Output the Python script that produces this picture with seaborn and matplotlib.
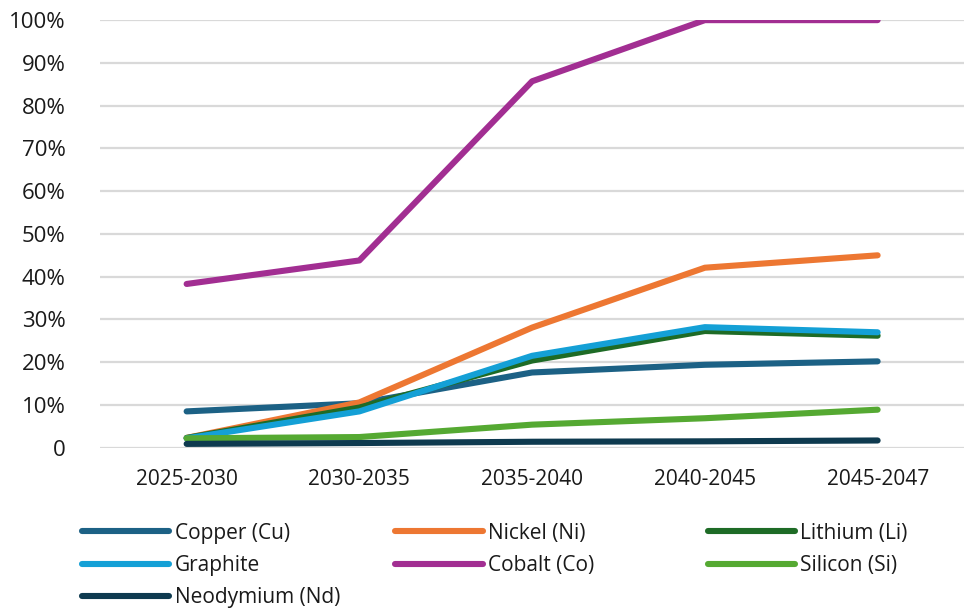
import numpy as np
import pandas as pd
import matplotlib.pyplot as plt
import seaborn as sns

periods = ["2025-2030", "2030-2035", "2035-2040", "2040-2045", "2045-2047"]

copper = [8.5, 10.4, 17.6, 19.4, 20.2]
nickel = [2.3, 10.6, 28.1, 42.1, 45.0]
lithium = [2.3, 9.4, 20.4, 27.3, 26.2]
graphite = [2.2, 8.5, 21.5, 28.2, 27.0]
cobalt = [38.3, 43.8, 85.7, 100.0, 100.0]
silicon = [2.2, 2.5, 5.4, 6.9, 8.9]
neodymium = [0.9, 1.1, 1.4, 1.5, 1.7]

series = {
    "Copper (Cu)": copper,
    "Nickel (Ni)": nickel,
    "Lithium (Li)": lithium,
    "Graphite": graphite,
    "Cobalt (Co)": cobalt,
    "Silicon (Si)": silicon,
    "Neodymium (Nd)": neodymium,
}
colors = {
    "Copper (Cu)": "#1c6185",
    "Nickel (Ni)": "#ed7732",
    "Lithium (Li)": "#1e6b26",
    "Graphite": "#14a0d6",
    "Cobalt (Co)": "#a22e92",
    "Silicon (Si)": "#55a932",
    "Neodymium (Nd)": "#0e3a4f",
}

rows = []
for name, vals in series.items():
    for p, v in zip(periods, vals):
        rows.append({"period": p, "share": v, "material": name})
df = pd.DataFrame(rows)

sns.set_style("white")
plt.rcParams["font.family"] = ["Open Sans", "DejaVu Sans"]
text_color = "#1a1a1a"

fig = plt.figure(figsize=(9.64, 6.10), dpi=100)
ax = fig.add_axes([0.104, 0.266, 0.896, 0.701])

sns.lineplot(data=df, x="period", y="share", hue="material", palette=colors,
             hue_order=list(series.keys()), linewidth=4.4, sort=False,
             solid_capstyle="round", ax=ax, zorder=3)

ax.set_xlim(-0.5, 4.5)
ax.set_ylim(0, 100)
ax.set_yticks(np.arange(0, 101, 10))
ax.set_yticklabels(["0"] + [f"{t}%" for t in range(10, 101, 10)])
ax.yaxis.grid(True, color="#d9d9d9", linewidth=1.6, zorder=0)
ax.xaxis.grid(False)
for s in ax.spines.values():
    s.set_visible(False)
ax.tick_params(axis="y", length=0, pad=25, labelsize=16, labelcolor=text_color)
ax.tick_params(axis="x", length=0, pad=15, labelsize=15, labelcolor=text_color)
ax.set_xlabel("")
ax.set_ylabel("")

handles, labels = ax.get_legend_handles_labels()
ax.get_legend().remove()
hmap = dict(zip(labels, handles))
for h in handles:
    h.set_linewidth(4.4)

columns = [
    (["Copper (Cu)", "Graphite", "Neodymium (Nd)"], 0.085),
    (["Nickel (Ni)", "Cobalt (Co)"], 0.41),
    (["Lithium (Li)", "Silicon (Si)"], 0.734),
]
for names, x0 in columns:
    fig.legend([hmap[n] for n in names], names, loc="upper left",
               bbox_to_anchor=(x0, 0.143), frameon=False, fontsize=15,
               handlelength=4.2, handletextpad=0.25, labelspacing=0.54,
               borderaxespad=0, borderpad=0, labelcolor=text_color)

fig.savefig("out.png", dpi=100)
